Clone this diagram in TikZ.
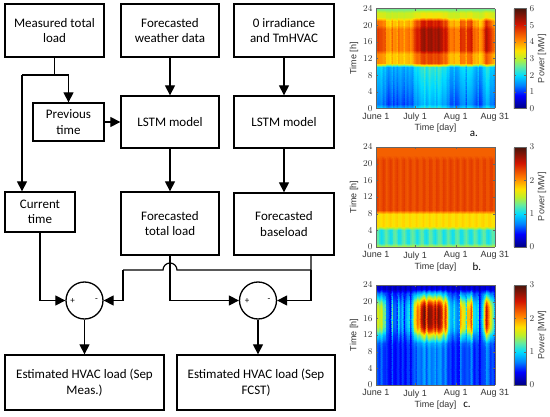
\documentclass[tikz,border=0pt]{standalone}
\usepackage{fontspec}
\setmainfont{Carlito}
\newfontfamily\plotfont{Liberation Sans}
\usepackage{pgfplots}
\pgfplotsset{compat=1.18}
\usetikzlibrary{arrows.meta,calc}

\pgfplotsset{
  colormap={myjet}{rgb255(0cm)=(0,0,130) rgb255(1.3cm)=(0,0,255) rgb255(2.3cm)=(0,130,255) rgb255(3.3cm)=(0,220,255) rgb255(4.2cm)=(100,235,160) rgb255(5cm)=(190,240,40) rgb255(5.8cm)=(255,225,0) rgb255(7cm)=(255,120,0) rgb255(8.4cm)=(210,20,0) rgb255(10cm)=(70,20,10)},
  colorbar shift/.style={xshift=19pt},
  heat/.style={
    /pgf/declare function={
      H(\t)=min(1,max(0,0.12+0.45*exp(-((\t-4)/3)^2)+0.85*exp(-((\t-43)/13)^4)+0.4*exp(-((\t-67)/3)^2)+0.5*exp(-((\t-73)/3)^2)+0.75*exp(-((\t-86)/3)^2)+0.12*sin(61*\t)+0.1*sin(143*\t+30)));
    },
    scale only axis, width=119pt, height=100pt,
    xmin=1, xmax=92, ymin=0, ymax=24,
    view={0}{90},
    xtick={1,31,62,92}, xticklabels={June 1,July 1,Aug 1,Aug 31},
    ytick={0,4,...,24},
    tick label style={font=\plotfont\fontsize{9}{10}\selectfont, text=black!80},
    xticklabel style={yshift=-1pt},
    label style={font=\plotfont\fontsize{9}{10}\selectfont, text=black!80},
    xlabel={Time [day]}, ylabel={Time [h]},
    xlabel style={yshift=4pt},
    ylabel style={yshift=-2pt},
    axis line style={black!60, line width=0.4pt},
    tick style={black!60},
    major tick length=2pt,
    tick align=inside,
    colormap name=myjet,
    enlargelimits=false,
    axis on top,
    colorbar,
    colorbar style={at={(parent axis.north east)}, anchor=north west, width=12pt,
      tick label style={font=\plotfont\fontsize{9}{10}\selectfont, text=black!80},
      major tick length=2pt, axis line style={black!60, line width=0.4pt}},
  },
}

\tikzset{
  box/.style={draw, line width=1.3pt, align=center, inner sep=0pt, font=\fontsize{13}{15.5}\selectfont},
  arr/.style={line width=1.2pt, -{Triangle[length=10pt,width=10pt]}},
  ln/.style={line width=1.2pt},
  sumnode/.style={circle, draw, line width=1.3pt, minimum size=37pt, inner sep=0pt},
  sign/.style={font=\fontsize{9}{10}\selectfont, inner sep=0pt},
  plab/.style={font=\plotfont\fontsize{9}{10}\selectfont, text=black!75, rotate=90},
  sublab/.style={font=\fontsize{11}{12}\selectfont},
}

\begin{document}
\begin{tikzpicture}
\useasboundingbox (0pt,0pt) rectangle (550pt,-417pt);

\begin{scope}[x=1pt,y=-1pt]
  \node[box, minimum width=99pt, minimum height=53pt] (m) at (54.5,30.5) {Measured total\\load};
  \node[box, minimum width=98pt, minimum height=53pt] (w) at (170,30.5) {Forecasted\\weather data};
  \node[box, minimum width=100pt, minimum height=53pt] (z) at (284,30.5) {0 irradiance\\and TmHVAC};
  \node[box, minimum width=71pt, minimum height=38pt] (p) at (68.5,122) {Previous\\time};
  \node[box, minimum width=98pt, minimum height=52pt] (l1) at (170,122) {LSTM model};
  \node[box, minimum width=100pt, minimum height=52pt] (l2) at (284,122) {LSTM model};
  \node[box, minimum width=70pt, minimum height=40pt] (c) at (40,212) {Current\\time};
  \node[box, minimum width=98pt, minimum height=63pt] (f) at (170,223.5) {Forecasted\\total load};
  \node[box, minimum width=100pt, minimum height=62pt] (b) at (284,224) {Forecasted\\baseload};
  \node[sumnode] (s1) at (84.5,300.5) {};
  \node[sumnode] (s2) at (258,300.5) {};
  \node[sign] (s1p) at (72.5,301) {+};
  \node[sign] (s1m) at (96.5,300) {-};
  \node[sign] (s2p) at (247,301) {+};
  \node[sign] (s2m) at (269,300) {-};
  \node[box, minimum width=159pt, minimum height=55pt] (e1) at (84.5,382.5) {Estimated HVAC load (Sep\\Meas.)};
  \node[box, minimum width=158pt, minimum height=55pt] (e2) at (256,382.5) {Estimated HVAC load (Sep\\FCST)};

  \coordinate (j0) at (54.5,75);
  \coordinate (jl) at (22,75);
  \coordinate (jr) at (68.5,75);
  \draw[ln] (m.south) -- (j0);
  \draw[ln] (jl) -- (jr);
  \draw[arr] (jr) -- (p.north);
  \draw[arr] (jl) -- (jl |- c.north);
  \draw[arr] (p.east) -- (l1.west |- p.east);
  \draw[arr] (w.south) -- (l1.north);
  \draw[arr] (l1.south) -- (f.north);
  \draw[arr] (z.south) -- (l2.north);
  \draw[arr] (l2.south) -- (b.north);
  \draw[arr] (c.south) |- (s1.west);
  \draw[arr] (f.south) |- (s2.west);

  \coordinate (bb) at (311,255);
  \coordinate (bj) at (311,270);
  \coordinate (hr) at (177,270);
  \coordinate (bl) at (123,270);
  \draw[ln] (bb) -- (bj) -- (hr) arc[start angle=0, end angle=-180, radius=7] -- (bl);
  \draw[arr] (bl) |- (s1.east);
  \draw[arr] (bj) |- (s2.east);
  \draw[arr] (s1.south) -- (e1.north);
  \draw[arr] (s2.south) -- (s2.south |- e2.north);

  \node[plab] (pa) at (542,58.5) {Power [MW]};
  \node[plab] (pb) at (542,196.5) {Power [MW]};
  \node[plab] (pc) at (542,335) {Power [MW]};
  \node[sublab] (la) at (474,134) {a.};
  \node[sublab] (lb) at (477,267) {b.};
  \node[sublab] (lc) at (467,405) {c.};
\end{scope}

% plot a
\begin{axis}[heat, at={(376pt,-108.5pt)}, anchor=south west, point meta min=0, point meta max=6,
  colorbar style={ytick={0,1,...,6}}]
\addplot3[surf, shader=interp, domain=1:92, y domain=0:24, samples=70, samples y=25]
  {(y<11)*(0.95+0.06*y+0.8*H(x)+0.12*sin(97*x)) + (y<1)*0.6
   + (y>=11)*(y<14)*(3.5+1.2*H(x)) + (y>=14)*(y<20)*(3.9+1.6*H(x))
   + (y>=20)*(y<22)*(3.5+1.6*H(x)) + (y>=22)*(y<24)*(3.0+0.4*H(x)) + (y>=24)*2.6};
\end{axis}

% plot b
\begin{axis}[heat, at={(376pt,-247pt)}, anchor=south west, point meta min=0, point meta max=3,
  colorbar style={ytick={0,1,2,3}}]
\addplot3[surf, shader=interp, domain=1:92, y domain=0:24, samples=70, samples y=25]
  {(y<1)*1.5 + (y>=1)*(y<5)*(1.15+0.12*sin(53*x)) + (y>=5)*(y<9)*(1.75+0.05*sin(71*x))
   + (y>=9)*(y<22)*(2.3+0.06*sin(70*x)) + (y>=22)*2.2};
\end{axis}

% plot c
\begin{axis}[heat, at={(376pt,-385pt)}, anchor=south west, point meta min=0, point meta max=3,
  colorbar style={ytick={0,1,2,3}}]
\addplot3[surf, shader=interp, domain=1:92, y domain=0:24, samples=70, samples y=25]
  {min(3,0.4+0.1*sin(89*x)+0.35*H(x)*(y<12)+2.45*H(x)*exp(-((y-16.5)/5)^4)) - (y>=23)*0.2};
\end{axis}
\end{tikzpicture}
\end{document}
